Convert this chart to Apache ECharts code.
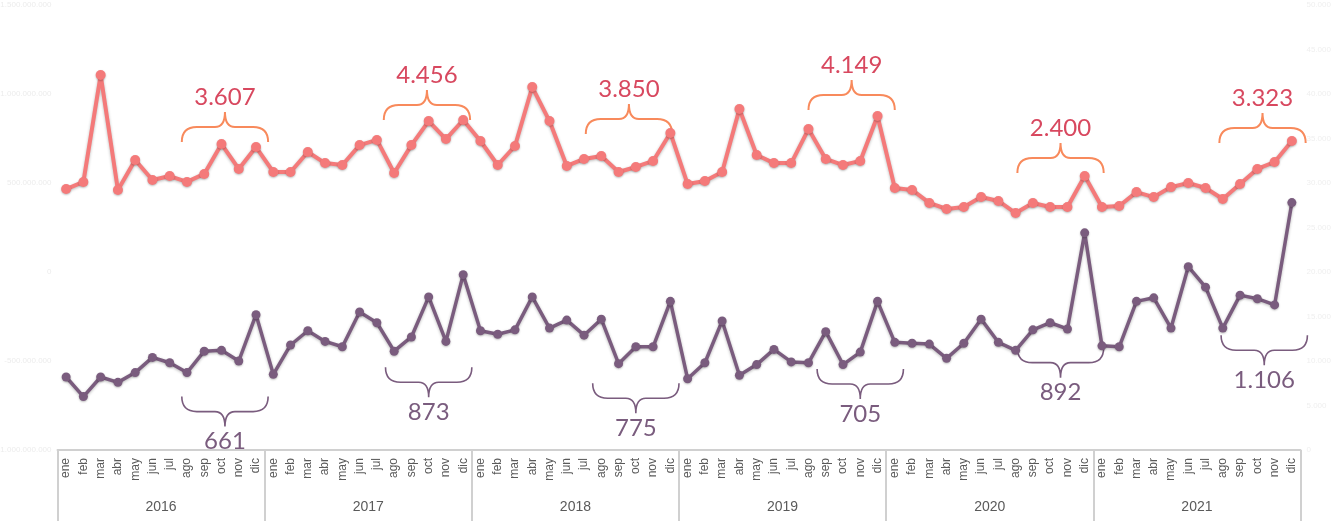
<!DOCTYPE html>
<html>
<head>
<meta charset="utf-8">
<script src="https://cdn.jsdelivr.net/npm/echarts@6/dist/echarts.min.js"></script>
<style>
  html, body { margin: 0; padding: 0; background: #fff; }
  #chart { width: 1331px; height: 521px; }
</style>
</head>
<body>
<div id="chart"></div>
<script>
// meses y años del eje x
const months = ['ene', 'feb', 'mar', 'abr', 'may', 'jun', 'jul', 'ago', 'sep', 'oct', 'nov', 'dic']
const years = ['2016', '2017', '2018', '2019', '2020', '2021']
const categories = years.flatMap(y => months.map(m => m + '-' + y))

// serie rosa (eje izquierdo, millones)
const pinkValues = [
  466, 506, 1107, 461, 629, 517, 539, 506, 551, 719, 579, 702,
  562, 562, 674, 612, 601, 713, 742, 556, 713, 848, 747, 854,
  736, 601, 708, 1039, 848, 596, 635, 652, 562, 590, 624, 781,
  494, 511, 562, 916, 657, 612, 612, 803, 635, 601, 624, 876,
  472, 461, 388, 354, 365, 421, 399, 331, 388, 365, 365, 539,
  365, 371, 449, 421, 477, 500, 472, 410, 494, 579, 618, 736
]

// serie morada (eje derecho)
const purpleValues = [
  82, 60, 82, 76, 87, 104, 98, 87, 111, 112, 100, 152,
  85, 118, 134, 122, 116, 155, 143, 111, 127, 172, 122, 197,
  134, 130, 135, 172, 137, 146, 129, 147, 97, 116, 116, 167,
  80, 98, 145, 84, 96, 113, 99, 98, 133, 96, 110, 167,
  121, 120, 119, 103, 120, 147, 121, 112, 135, 143, 136, 244,
  117, 116, 167, 171, 137, 206, 183, 137, 174, 170, 163, 278
]

// llaves de anotación: inicio (índice de mes), valor de los extremos, texto
const pinkBraceStart = [6.7, 18.4, 30.1, 43.0, 55.1, 66.8]
const pinkBraceValue = [730, 854, 775, 910, 556, 725]
const pinkBraceLabel = ['3.607', '4.456', '3.850', '4.149', '2.400', '3.323']

const purpleBraceStart = [6.7, 18.5, 30.5, 43.5, 55.1, 66.9]
const purpleBraceValue = [60, 93, 75, 91, 115, 129]
const purpleBraceLabel = ['661', '873', '775', '705', '892', '1.106']

const braceWidth = 5

const PINK = '#f47a7a'
const PURPLE = '#7a5c7e'

function fmt (v) {
  return String(v).replace(/\B(?=(\d{3})+(?!\d))/g, '.')
}

function braceRenderer (labels, up, lineColor, textColor, lineWidth, gap) {
  return function (params, api) {
    const s = api.value(0)
    const v = api.value(1)
    const band = api.size([1, 0])[0]
    const base = api.coord([Math.floor(s), v])
    const x0 = base[0] + (s - Math.floor(s)) * band
    const x1 = x0 + braceWidth * band
    const xm = (x0 + x1) / 2
    const yb = base[1]
    const h = up ? -30 : 30
    const ym = yb + h / 2
    const yt = yb + h
    const r = 15
    const r2 = 10
    const d = 'M' + x0 + ',' + yb +
      ' Q' + x0 + ',' + ym + ' ' + (x0 + r) + ',' + ym +
      ' L' + (xm - r2) + ',' + ym +
      ' Q' + xm + ',' + ym + ' ' + xm + ',' + yt +
      ' Q' + xm + ',' + ym + ' ' + (xm + r2) + ',' + ym +
      ' L' + (x1 - r) + ',' + ym +
      ' Q' + x1 + ',' + ym + ' ' + x1 + ',' + yb
    return {
      type: 'group',
      children: [{
        type: 'path',
        shape: { pathData: d },
        style: { fill: 'none', stroke: lineColor, lineWidth: lineWidth }
      }, {
        type: 'text',
        style: {
          text: labels[params.dataIndex],
          x: xm,
          y: up ? yt - gap : yt + gap,
          align: 'center',
          verticalAlign: up ? 'bottom' : 'top',
          fill: textColor,
          font: '24px Lato, "Open Sans", sans-serif'
        }
      }]
    }
  }
}

const myChart = echarts.init(document.getElementById('chart'))

const option = {
  animation: false,
  grid: {
    left: 57.5,
    right: 30.5,
    top: 5,
    bottom: 71,
    outerBoundsMode: 'none'
  },
  xAxis: [{
    type: 'category',
    data: categories,
    boundaryGap: true,
    axisLine: { show: false },
    axisTick: { show: false },
    axisLabel: {
      interval: 0,
      rotate: 90,
      margin: 8,
      fontSize: 12,
      color: '#5a5a5a',
      fontFamily: 'Liberation Sans, Arial, sans-serif',
      formatter: v => v.split('-')[0]
    }
  }, {
    type: 'category',
    data: years,
    position: 'bottom',
    boundaryGap: true,
    axisLine: { show: true, lineStyle: { color: '#d0d0d0', width: 2 } },
    axisTick: {
      show: true,
      inside: false,
      length: 72,
      lineStyle: { color: '#d0d0d0', width: 2 }
    },
    axisLabel: {
      interval: 0,
      margin: 50,
      fontSize: 14,
      color: '#5a5a5a',
      fontFamily: 'Liberation Sans, Arial, sans-serif'
    }
  }],
  yAxis: [{
    type: 'value',
    min: -1000,
    max: 1500,
    interval: 500,
    splitLine: { show: false },
    axisLine: { show: false },
    axisTick: { show: false },
    axisLabel: {
      fontSize: 8,
      color: '#ececec',
      margin: 6,
      formatter: v => v === 0 ? '0' : (v < 0 ? '-' : '') + fmt(Math.abs(v) * 1000000)
    }
  }, {
    type: 'value',
    min: 0,
    max: 500,
    interval: 50,
    splitLine: { show: false },
    axisLine: { show: false },
    axisTick: { show: false },
    axisLabel: {
      fontSize: 8,
      color: '#efefef',
      margin: 6,
      formatter: v => v === 0 ? '0' : fmt(v * 100)
    }
  }],
  series: [{
    type: 'line',
    xAxisIndex: 0,
    yAxisIndex: 0,
    data: pinkValues,
    symbol: 'circle',
    symbolSize: 10,
    z: 3,
    lineStyle: {
      color: PINK,
      width: 4,
      shadowColor: 'rgba(0,0,0,0.28)',
      shadowBlur: 3,
      shadowOffsetY: 1
    },
    itemStyle: {
      color: PINK,
      shadowColor: 'rgba(0,0,0,0.25)',
      shadowBlur: 2,
      shadowOffsetY: 1
    }
  }, {
    type: 'line',
    xAxisIndex: 0,
    yAxisIndex: 1,
    data: purpleValues,
    symbol: 'circle',
    symbolSize: 9,
    z: 3,
    lineStyle: {
      color: PURPLE,
      width: 3.5,
      shadowColor: 'rgba(0,0,0,0.28)',
      shadowBlur: 3,
      shadowOffsetY: 1
    },
    itemStyle: {
      color: PURPLE,
      shadowColor: 'rgba(0,0,0,0.25)',
      shadowBlur: 2,
      shadowOffsetY: 1
    }
  }, {
    type: 'custom',
    xAxisIndex: 0,
    yAxisIndex: 0,
    encode: { x: 0, y: 1 },
    silent: true,
    z: 2,
    data: pinkBraceStart.map((s, i) => [s, pinkBraceValue[i]]),
    renderItem: braceRenderer(pinkBraceLabel, true, '#f88a5c', '#d8485f', 2, 3)
  }, {
    type: 'custom',
    xAxisIndex: 0,
    yAxisIndex: 1,
    encode: { x: 0, y: 1 },
    silent: true,
    z: 2,
    data: purpleBraceStart.map((s, i) => [s, purpleBraceValue[i]]),
    renderItem: braceRenderer(purpleBraceLabel, false, PURPLE, PURPLE, 1.6, 3)
  }]
}

myChart.setOption(option)
</script>
</body>
</html>
